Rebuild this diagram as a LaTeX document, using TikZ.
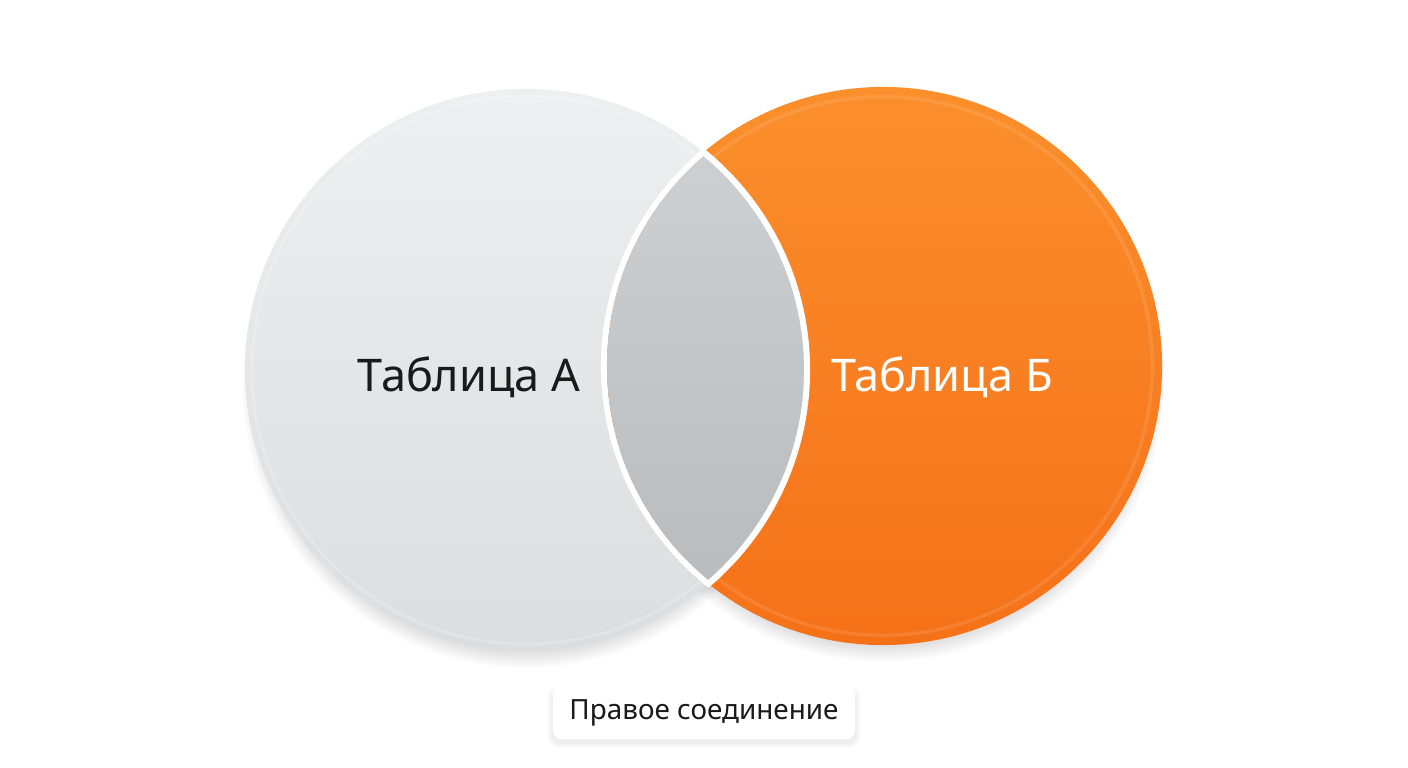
\documentclass[tikz,border=0pt]{standalone}
\usepackage{fontspec}
\setmainfont{Noto Sans}
\usetikzlibrary{positioning, shadows}
\definecolor{grayTop}{HTML}{EEEFF0}
\definecolor{grayBot}{HTML}{DBDDDF}
\definecolor{lensTop}{HTML}{D0D3D6}
\definecolor{lensBot}{HTML}{B6B9BC}
\definecolor{orangeTop}{HTML}{FB8F2C}
\definecolor{orangeBot}{HTML}{F57118}
\definecolor{inkcolor}{HTML}{1A1A1A}

\begin{document}
\begin{tikzpicture}[x=0.025cm, y=-0.025cm,
    setcircle/.style={circle, inner sep=0pt, outer sep=0pt},
    tabletext/.style={font=\fontsize{32}{38}\selectfont},
    caption/.style={fill=white, rounded corners=6pt, font=\fontsize{19.8}{24}\selectfont,
        minimum width=7.55cm, minimum height=1.32cm, text=inkcolor}]
    \useasboundingbox (0, 0) rectangle (1408, 768);
    \fill[white] (0, 0) rectangle (1408, 768);

    % Soft shadows
    \foreach \k in {1,...,10} {
        \fill[black, opacity=0.010] (526, 384) circle[radius=(268+1.6*\k)*0.025cm];
        \fill[black, opacity=0.010] (883, 380) circle[radius=(266+1.6*\k)*0.025cm];
    }

    % Table A
    \node[setcircle, minimum size=14.05cm, top color=grayTop, bottom color=grayBot] (tabA) at (526, 370) {};
    \draw[white, opacity=0.2, line width=2pt] (tabA.center) circle[radius=6.85cm];

    % Table B
    \node[setcircle, minimum size=13.95cm, top color=orangeTop, bottom color=orangeBot] (tabB) at (883, 366) {};
    \draw[white, opacity=0.1, line width=2.5pt] (tabB.center) circle[radius=6.73cm];

    % Intersection
    \begin{scope}
        \clip (tabA.center) circle[radius=7.1cm];
        \draw[white, line width=0.15cm] (tabB.center) circle[radius=6.975cm];
    \end{scope}
    \begin{scope}
        \clip (tabB.center) circle[radius=6.9cm];
        \draw[white, line width=0.15cm, top color=lensTop, bottom color=lensBot]
            (tabA.center) circle[radius=7.025cm];
    \end{scope}

    % Labels
    \node[tabletext, text=inkcolor] (textA) at (469, 377) {Таблица А};
    \node[tabletext, text=white] (textB) at (942, 377) {Таблица Б};

    % Caption
    \foreach \k in {1,...,6} {
        \fill[black, opacity=0.010, rounded corners=8pt]
            (553-\k, 690-\k+2) rectangle (855+\k, 740+\k+2);
    }
    \node[caption] (join) at (704, 713) {Правое соединение};
\end{tikzpicture}
\end{document}
